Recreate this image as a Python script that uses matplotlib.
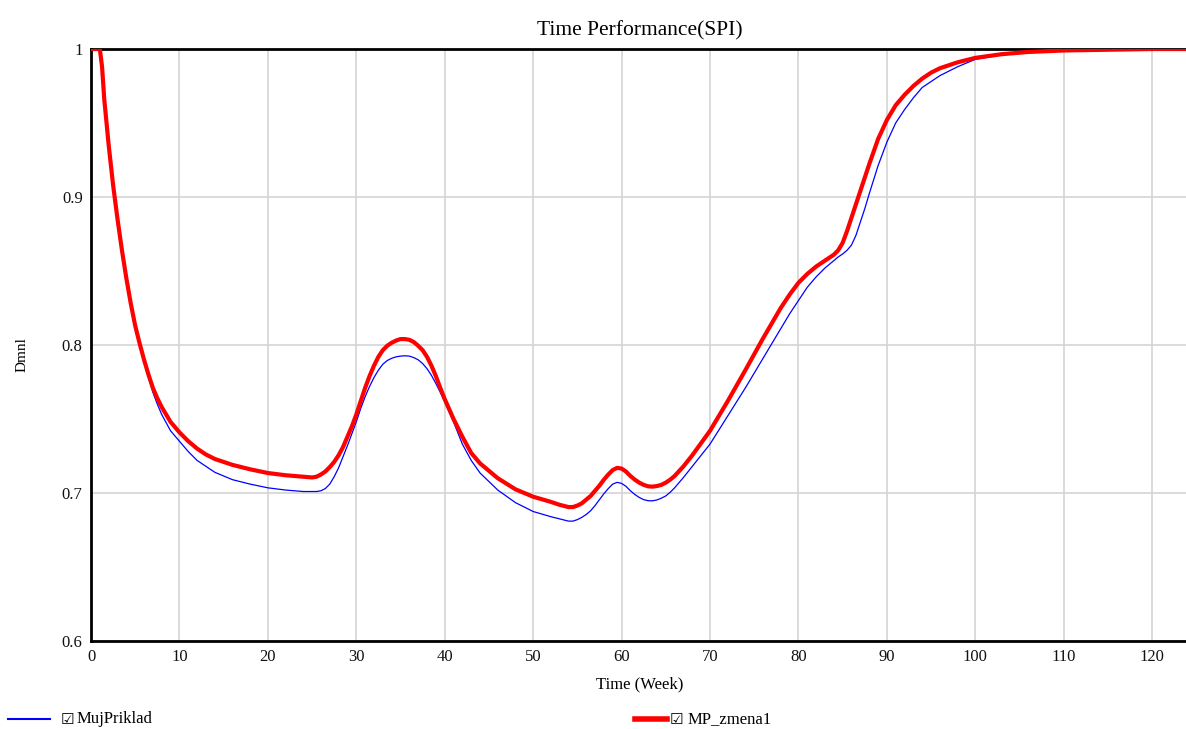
import matplotlib
matplotlib.use("Agg")
import matplotlib.pyplot as plt
from matplotlib.lines import Line2D

weeks = [0, 1, 1.25, 1.5, 2, 2.5, 3, 3.5, 4, 4.5, 5, 5.5, 6, 6.5, 7, 7.5, 8, 9, 10, 11,
         12, 13, 14, 16, 18, 20, 22, 24,
         25, 25.5, 26, 26.5, 27, 27.5, 28, 28.5, 29, 29.5, 30, 30.5, 31, 31.5, 32,
         32.5, 33, 33.5, 34, 34.5, 35, 35.5, 36, 36.5, 37, 37.5, 38, 38.5, 39, 39.5, 40,
         41, 42, 43, 44, 46, 48, 50, 52, 53, 54,
         54.5, 55, 55.5, 56, 56.5, 57, 57.5, 58, 58.5, 59, 59.5, 60, 60.5, 61, 61.5,
         62, 62.5, 63, 63.5, 64, 64.5, 65, 65.5, 66,
         67, 68, 70, 72, 74, 76, 78, 79, 80, 81, 82, 83, 84, 84.5, 85, 85.5, 86, 86.5,
         87, 87.5, 88, 89, 90, 91, 92, 93, 94, 95, 96, 98, 100, 103, 106, 110, 115, 120, 124]

mp_zmena1 = [1.0, 1.0, 0.988, 0.966, 0.935, 0.908, 0.885, 0.864, 0.845, 0.828, 0.813,
             0.801, 0.790, 0.780, 0.771, 0.764, 0.758, 0.748, 0.741, 0.735,
             0.730, 0.726, 0.723, 0.719, 0.716, 0.7135, 0.712, 0.711,
             0.7105, 0.711, 0.7125, 0.7145, 0.7175, 0.721, 0.7255, 0.731, 0.738, 0.745,
             0.753, 0.762, 0.771, 0.779, 0.786,
             0.792, 0.7965, 0.7995, 0.8015, 0.803, 0.804, 0.804, 0.8035, 0.802, 0.7995,
             0.7965, 0.792, 0.786, 0.779, 0.771, 0.7635,
             0.750, 0.738, 0.727, 0.720, 0.710, 0.7025, 0.6975, 0.694, 0.692, 0.6905,
             0.6905, 0.6915, 0.693, 0.6955, 0.698, 0.7015, 0.705, 0.709, 0.7125, 0.7155,
             0.717, 0.7165, 0.7145, 0.7115, 0.709,
             0.707, 0.7055, 0.7045, 0.7043, 0.7047, 0.7055, 0.707, 0.709, 0.7115,
             0.718, 0.7255, 0.742, 0.762, 0.783, 0.8045, 0.825, 0.834, 0.842, 0.848,
             0.853, 0.857, 0.861, 0.864, 0.869, 0.877, 0.886, 0.895,
             0.904, 0.913, 0.922, 0.939, 0.952, 0.962, 0.969, 0.975, 0.980, 0.984, 0.987,
             0.991, 0.994, 0.9965, 0.998, 0.999, 0.9995, 1.0, 1.0]

muj_priklad = [1.0, 1.0, 0.988, 0.966, 0.935, 0.908, 0.885, 0.864, 0.845, 0.828, 0.813,
               0.801, 0.789, 0.778, 0.768, 0.760, 0.753, 0.742, 0.735, 0.728,
               0.722, 0.718, 0.714, 0.709, 0.706, 0.7035, 0.702, 0.701,
               0.701, 0.701, 0.7015, 0.703, 0.706, 0.711, 0.717, 0.7245, 0.732, 0.740,
               0.748, 0.757, 0.765, 0.772, 0.778,
               0.783, 0.787, 0.7895, 0.791, 0.792, 0.7925, 0.7927, 0.7925, 0.7915, 0.790,
               0.7875, 0.784, 0.7795, 0.774, 0.768, 0.7615,
               0.748, 0.733, 0.722, 0.7135, 0.702, 0.6935, 0.6875, 0.684, 0.6825, 0.681,
               0.681, 0.682, 0.6835, 0.6855, 0.688, 0.6915, 0.6955, 0.6995, 0.703, 0.706,
               0.7072, 0.7065, 0.7045, 0.7015, 0.699,
               0.697, 0.6955, 0.6948, 0.6947, 0.6953, 0.6965, 0.698, 0.7005, 0.7035,
               0.7105, 0.718, 0.733, 0.752, 0.771, 0.791, 0.811, 0.821, 0.830, 0.839,
               0.846, 0.852, 0.857, 0.8595, 0.8615, 0.864, 0.8675, 0.874,
               0.883, 0.892, 0.902, 0.921, 0.937, 0.950, 0.959, 0.967, 0.974, 0.978, 0.982,
               0.988, 0.993, 0.996, 0.9975, 0.9988, 0.9995, 1.0, 1.0]

assert len(weeks) == len(mp_zmena1) == len(muj_priklad)

x_ticks = [0, 10, 20, 30, 40, 50, 60, 70, 80, 90, 100, 110, 120]
y_ticks = [0.6, 0.7, 0.8, 0.9, 1.0]
y_tick_labels = ["0.6", "0.7", "0.8", "0.9", "1"]
series_names = ["MujPriklad", "MP_zmena1"]

plt.rcParams['font.family'] = ['Liberation Serif', 'DejaVu Sans']

fig = plt.figure(figsize=(11.86, 7.29), dpi=100)
ax = fig.add_axes([91/1186, 1 - 641/729, 1 - 91/1186 + 0.002, (641 - 49)/729])

ax.plot(weeks, muj_priklad, color='#0000ff', lw=0.9, zorder=3,
        solid_joinstyle='round')
ax.plot(weeks, mp_zmena1, color='#ff0000', lw=3.0, zorder=4,
        solid_joinstyle='round', solid_capstyle='round')

ax.set_xlim(0, 124.1)
ax.set_ylim(0.6, 1.0)
ax.set_xticks(x_ticks)
ax.set_yticks(y_ticks)
ax.set_yticklabels(y_tick_labels)
ax.tick_params(length=0, labelsize=12, pad=6, colors='#111111')
ax.grid(True, color='#d4d4d4', lw=1.2)
ax.set_axisbelow(True)
for s in ['left', 'bottom', 'top']:
    ax.spines[s].set_linewidth(2)
    ax.spines[s].set_color('black')
ax.spines['right'].set_visible(False)

ax.set_title("Time Performance(SPI)", fontsize=15.5, pad=10)
ax.set_xlabel("Time (Week)", fontsize=12, labelpad=8)
fig.text(22/1186, 1 - 355/729, "Dmnl", rotation=90, fontsize=11, va='center', ha='center')

# legend row
ly = 1 - 719/729
fig.add_artist(Line2D([8/1186, 50/1186], [ly, ly], color='#0000ff', lw=1.5))
fig.text(61/1186, ly, "\u2611", fontsize=11, va='center', ha='left', family=['DejaVu Sans'])
fig.text(77/1186, ly, series_names[0], fontsize=12, va='center', ha='left')
fig.add_artist(Line2D([635/1186, 667/1186], [ly, ly], color='#ff0000', lw=4))
fig.text(670/1186, ly, "\u2611", fontsize=11, va='center', ha='left', family=['DejaVu Sans'])
fig.text(688/1186, ly, series_names[1], fontsize=12, va='center', ha='left')

fig.savefig("out.png", dpi=100)
